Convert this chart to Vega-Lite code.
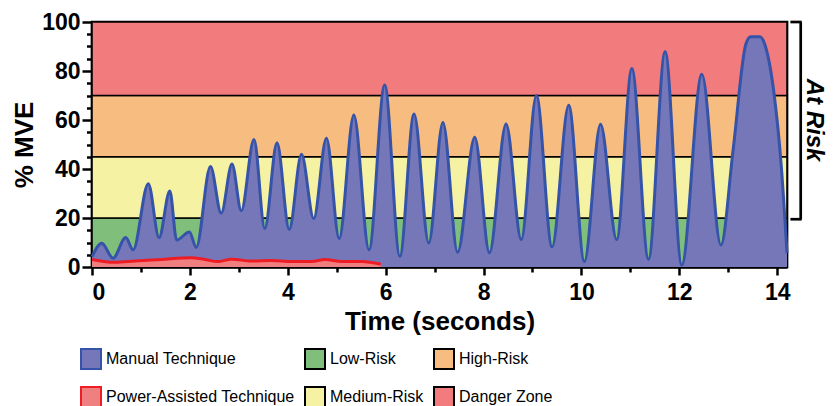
{
  "$schema": "https://vega.github.io/schema/vega-lite/v6.json",
  "width": 695,
  "height": 245,
  "autosize": {"type": "none"},
  "padding": {"left": 92, "top": 22, "right": 47, "bottom": 139},
  "background": "white",
  "config": {
    "view": {"stroke": "black", "strokeWidth": 2.7},
    "axis": {
      "labelFont": "Liberation Sans",
      "labelFontWeight": "bold",
      "labelFontSize": 23,
      "labelColor": "black",
      "titleFont": "Liberation Sans",
      "titleFontWeight": "bold",
      "titleFontSize": 26,
      "titleColor": "black",
      "domainColor": "black",
      "domainWidth": 2.7,
      "tickColor": "black",
      "tickWidth": 2.5,
      "grid": false,
      "zindex": 1
    },
    "legend": {
      "labelFont": "Liberation Sans",
      "labelFontSize": 16,
      "labelColor": "black",
      "labelLimit": 0
    }
  },
  "datasets": {
    "zones": [
      {"zone": "Low-Risk", "lo": 0, "hi": 20},
      {"zone": "Medium-Risk", "lo": 20, "hi": 45},
      {"zone": "High-Risk", "lo": 45, "hi": 70},
      {"zone": "Danger Zone", "lo": 70, "hi": 100}
    ],
    "manual": [
      {"t": 0, "v": 4.2}, {"t": 0.2, "v": 9.7}, {"t": 0.43, "v": 3.6}, {"t": 0.69, "v": 12},
      {"t": 0.84, "v": 7}, {"t": 1.15, "v": 34}, {"t": 1.37, "v": 12}, {"t": 1.59, "v": 31},
      {"t": 1.73, "v": 11}, {"t": 1.99, "v": 14.3}, {"t": 2.13, "v": 8}, {"t": 2.42, "v": 41},
      {"t": 2.64, "v": 22}, {"t": 2.86, "v": 42}, {"t": 3.05, "v": 23}, {"t": 3.31, "v": 52},
      {"t": 3.53, "v": 15.7}, {"t": 3.78, "v": 50.7}, {"t": 4.03, "v": 15.3}, {"t": 4.28, "v": 46},
      {"t": 4.53, "v": 19.8}, {"t": 4.79, "v": 52.6}, {"t": 5.05, "v": 11.6}, {"t": 5.35, "v": 62},
      {"t": 5.66, "v": 7}, {"t": 5.98, "v": 74.3}, {"t": 6.29, "v": 4.4}, {"t": 6.58, "v": 62.5},
      {"t": 6.88, "v": 9.8}, {"t": 7.17, "v": 59}, {"t": 7.47, "v": 6}, {"t": 7.82, "v": 53},
      {"t": 8.12, "v": 5.8}, {"t": 8.46, "v": 58.4}, {"t": 8.77, "v": 11.2}, {"t": 9.08, "v": 70},
      {"t": 9.4, "v": 8.2}, {"t": 9.74, "v": 66}, {"t": 10.06, "v": 2.2}, {"t": 10.39, "v": 58.3},
      {"t": 10.72, "v": 11.2}, {"t": 11.03, "v": 81}, {"t": 11.37, "v": 3.2}, {"t": 11.71, "v": 88},
      {"t": 12.05, "v": 0.8}, {"t": 12.46, "v": 78.7}, {"t": 12.85, "v": 9}, {"t": 13.1, "v": 48},
      {"t": 13.36, "v": 91}, {"t": 13.46, "v": 94}, {"t": 13.65, "v": 94}, {"t": 13.76, "v": 90},
      {"t": 13.94, "v": 70}, {"t": 14.08, "v": 42}, {"t": 14.2, "v": 5.8}
    ],
    "power": [
      {"t": 0, "v": 3.1}, {"t": 0.47, "v": 1.9}, {"t": 0.88, "v": 2.4}, {"t": 1.42, "v": 3.1},
      {"t": 2.03, "v": 3.8}, {"t": 2.3, "v": 3.1}, {"t": 2.57, "v": 2.2}, {"t": 2.85, "v": 3.2},
      {"t": 3.26, "v": 2.4}, {"t": 3.67, "v": 2.7}, {"t": 4.08, "v": 2.2}, {"t": 4.49, "v": 2.2},
      {"t": 4.76, "v": 3.1}, {"t": 5.1, "v": 2.2}, {"t": 5.51, "v": 2.2}, {"t": 5.9, "v": 1.1}
    ],
    "note": [{"label": "At Risk"}]
  },
  "layer": [
    {
      "data": {"name": "zones"},
      "mark": {"type": "rect", "strokeWidth": 1.6},
      "encoding": {
        "y": {"field": "lo", "type": "quantitative", "scale": {"domain": [0, 100], "nice": false}, "axis": null},
        "y2": {"field": "hi"},
        "fill": {
          "field": "zone", "type": "nominal",
          "scale": {
            "domain": ["Manual Technique", "Power-Assisted Technique", "Low-Risk", "Medium-Risk", "High-Risk", "Danger Zone"],
            "range": ["#7577b8", "#f08080", "#7fbf7b", "#f5f2a3", "#f7bd80", "#f27b7e"]
          },
          "legend": {
            "title": null, "orient": "none", "legendX": -12, "legendY": 326, "columns": 3,
            "symbolType": "square", "symbolSize": 400, "symbolStrokeWidth": 2,
            "columnPadding": 6, "rowPadding": 10, "labelOffset": 4
          }
        },
        "stroke": {
          "field": "zone", "type": "nominal",
          "scale": {
            "domain": ["Manual Technique", "Power-Assisted Technique", "Low-Risk", "Medium-Risk", "High-Risk", "Danger Zone"],
            "range": ["#3553a8", "#ee1c25", "black", "black", "black", "black"]
          },
          "legend": {
            "title": null, "orient": "none", "legendX": -12, "legendY": 326, "columns": 3,
            "symbolType": "square", "symbolSize": 400, "symbolStrokeWidth": 2,
            "columnPadding": 6, "rowPadding": 10, "labelOffset": 4
          }
        }
      }
    },
    {
      "data": {"name": "manual"},
      "mark": {"type": "area", "interpolate": "monotone", "color": "#7577b8", "opacity": 1},
      "encoding": {
        "x": {"field": "t", "type": "quantitative", "scale": {"domain": [0, 14.2], "nice": false},
          "axis": {"title": "Time (seconds)", "values": [0, 2, 4, 6, 8, 10, 12, 14], "tickSize": 8, "labelPadding": 6, "titlePadding": 4}},
        "y": {"field": "v", "type": "quantitative", "scale": {"domain": [0, 100], "nice": false},
          "axis": {"title": "% MVE", "values": [0, 20, 40, 60, 80, 100], "tickSize": 10, "labelPadding": 2, "titlePadding": 4}}
      }
    },
    {
      "data": {"name": "manual"},
      "mark": {"type": "line", "interpolate": "monotone", "color": "#3553a8", "strokeWidth": 3},
      "encoding": {
        "x": {"field": "t", "type": "quantitative",
          "axis": {"orient": "bottom", "title": null, "values": [1, 3, 5, 7, 9, 11, 13], "tickSize": 5, "labels": false, "domain": false}},
        "y": {"field": "v", "type": "quantitative",
          "axis": {"orient": "left", "title": null, "values": [5, 10, 15, 25, 30, 35, 45, 50, 55, 65, 70, 75, 85, 90, 95], "tickSize": 5.5, "labels": false, "domain": false}}
      }
    },
    {
      "data": {"name": "power"},
      "mark": {"type": "area", "interpolate": "monotone", "color": "#f08080", "opacity": 1},
      "encoding": {
        "x": {"field": "t", "type": "quantitative", "axis": null},
        "y": {"field": "v", "type": "quantitative", "axis": null}
      }
    },
    {
      "data": {"name": "power"},
      "mark": {"type": "line", "interpolate": "monotone", "color": "#ee1c25", "strokeWidth": 3},
      "encoding": {
        "x": {"field": "t", "type": "quantitative", "axis": null},
        "y": {"field": "v", "type": "quantitative", "axis": null}
      }
    },
    {
      "data": {"name": "note"},
      "mark": {"type": "rule", "color": "black", "strokeWidth": 2.7},
      "encoding": {
        "x": {"datum": 14.48, "type": "quantitative", "axis": null},
        "y": {"datum": 19.5, "type": "quantitative", "axis": null},
        "y2": {"datum": 100}
      }
    },
    {
      "data": {"name": "note"},
      "mark": {"type": "rule", "color": "black", "strokeWidth": 2.7},
      "encoding": {
        "x": {"datum": 14.27, "type": "quantitative", "axis": null},
        "x2": {"datum": 14.5},
        "y": {"datum": 100, "type": "quantitative", "axis": null}
      }
    },
    {
      "data": {"name": "note"},
      "mark": {"type": "rule", "color": "black", "strokeWidth": 2.7},
      "encoding": {
        "x": {"datum": 14.27, "type": "quantitative", "axis": null},
        "x2": {"datum": 14.5},
        "y": {"datum": 19.5, "type": "quantitative", "axis": null}
      }
    },
    {
      "data": {"name": "note"},
      "mark": {"type": "text", "angle": 90, "font": "Liberation Sans", "fontSize": 24, "fontWeight": "bold", "fontStyle": "italic", "color": "black", "align": "center", "baseline": "middle"},
      "encoding": {
        "x": {"datum": 14.76, "type": "quantitative", "axis": null},
        "y": {"datum": 60, "type": "quantitative", "axis": null},
        "text": {"field": "label"}
      }
    }
  ],
  "resolve": {"axis": {"x": "independent", "y": "independent"}}
}
